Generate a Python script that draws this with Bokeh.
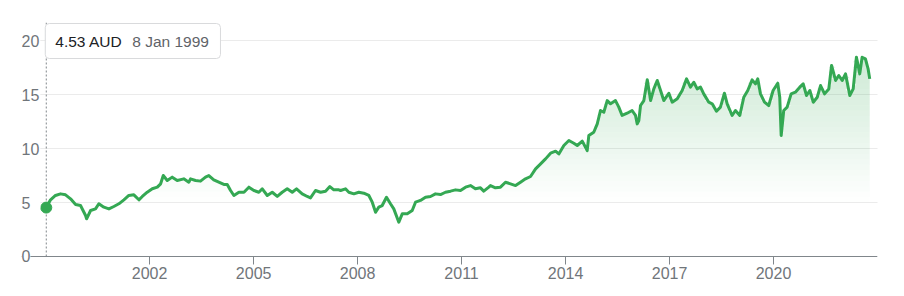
import numpy as np
import pandas as pd
from bokeh.plotting import figure
from bokeh.models import Range1d, FixedTicker, Label, Grid
from bokeh.embed import file_html
from bokeh.resources import INLINE

# ---------------- data ----------------
date_strings = [
    "1999-01-08", "1999-02-22", "1999-04-15", "1999-06-07", "1999-07-30", "1999-09-21",
    "1999-11-13", "2000-01-04", "2000-02-26", "2000-03-08", "2000-04-19", "2000-06-10",
    "2000-07-15", "2000-09-06", "2000-10-29", "2000-12-20", "2001-02-11", "2001-04-05",
    "2001-05-27", "2001-07-19", "2001-09-10", "2001-10-16", "2001-12-07", "2002-01-29",
    "2002-03-23", "2002-04-27", "2002-05-25", "2002-07-06", "2002-08-27", "2002-10-19",
    "2002-12-27", "2003-02-18", "2003-03-08", "2003-04-30", "2003-06-21", "2003-08-13",
    "2003-09-17", "2003-11-08", "2003-12-31", "2004-02-22", "2004-03-29", "2004-05-03",
    "2004-06-07", "2004-07-30", "2004-09-21", "2004-11-12", "2005-01-04", "2005-02-25",
    "2005-04-02", "2005-05-25", "2005-07-16", "2005-09-07", "2005-10-29", "2005-12-21",
    "2006-02-12", "2006-03-29", "2006-05-28", "2006-07-20", "2006-08-23", "2006-10-15",
    "2006-12-07", "2007-01-29", "2007-03-15", "2007-04-26", "2007-06-18", "2007-07-06",
    "2007-08-27", "2007-10-01", "2007-11-23", "2008-01-14", "2008-03-07", "2008-04-29",
    "2008-06-04", "2008-07-09", "2008-08-12", "2008-09-17", "2008-11-01", "2008-12-13",
    "2009-01-17", "2009-03-11", "2009-04-16", "2009-06-08", "2009-07-30", "2009-09-03",
    "2009-10-25", "2009-12-17", "2010-02-08", "2010-04-01", "2010-05-24", "2010-07-15",
    "2010-09-07", "2010-10-29", "2010-12-21", "2011-02-12", "2011-04-05", "2011-05-27",
    "2011-07-19", "2011-08-23", "2011-10-15", "2011-11-02", "2011-12-24", "2012-02-15",
    "2012-04-08", "2012-05-31", "2012-07-23", "2012-09-13", "2012-11-05", "2012-12-28",
    "2013-02-19", "2013-04-13", "2013-06-04", "2013-07-27", "2013-09-18", "2013-10-22",
    "2013-12-14", "2014-02-05", "2014-03-29", "2014-05-04", "2014-06-26", "2014-08-17",
    "2014-09-03", "2014-10-25", "2014-12-01", "2015-01-04", "2015-02-08", "2015-03-16",
    "2015-04-20", "2015-06-11", "2015-07-16", "2015-08-20", "2015-10-12", "2015-12-03",
    "2016-01-08", "2016-01-26", "2016-02-12", "2016-03-01", "2016-04-05", "2016-05-11",
    "2016-06-15", "2016-07-19", "2016-08-24", "2016-09-28", "2016-11-01", "2016-12-24",
    "2017-01-29", "2017-03-23", "2017-05-14", "2017-06-29", "2017-08-09", "2017-09-13",
    "2017-10-19", "2017-11-23", "2017-12-27", "2018-02-18", "2018-03-26", "2018-05-10",
    "2018-06-21", "2018-08-02", "2018-08-31", "2018-10-22", "2018-11-26", "2019-01-11",
    "2019-02-22", "2019-04-05", "2019-05-21", "2019-06-25", "2019-07-19", "2019-08-17",
    "2019-09-28", "2019-11-12", "2019-12-28", "2020-02-15", "2020-03-07", "2020-03-22",
    "2020-04-18", "2020-05-24", "2020-07-05", "2020-08-19", "2020-10-04", "2020-11-09",
    "2020-12-14", "2021-01-18", "2021-02-23", "2021-04-06", "2021-05-11", "2021-06-22",
    "2021-08-06", "2021-09-04", "2021-10-16", "2021-11-19", "2021-12-25", "2022-01-29",
    "2022-03-15", "2022-04-20", "2022-05-24", "2022-06-28", "2022-07-23", "2022-08-27",
    "2022-09-24", "2022-10-11",
]
prices = [
    4.53, 5.25, 5.65, 5.80, 5.71, 5.34,
    4.81, 4.72, 3.80, 3.49, 4.26, 4.41,
    4.88, 4.57, 4.41, 4.63, 4.88, 5.25,
    5.65, 5.71, 5.25, 5.56, 5.96, 6.27,
    6.42, 6.73, 7.50, 7.04, 7.35, 7.04,
    7.19, 6.88, 7.19, 7.04, 6.98, 7.35,
    7.50, 7.10, 6.88, 6.67, 6.67, 6.11,
    5.65, 5.95, 5.95, 6.42, 6.11, 5.95,
    6.27, 5.65, 5.95, 5.56, 5.95, 6.27,
    5.95, 6.27, 5.80, 5.56, 5.43, 6.11,
    5.95, 6.05, 6.48, 6.17, 6.17, 6.11,
    6.27, 5.95, 5.80, 5.95, 5.86, 5.65,
    5.03, 4.10, 4.57, 4.72, 5.49, 4.88,
    4.41, 3.18, 3.95, 3.95, 4.26, 5.03,
    5.19, 5.49, 5.56, 5.80, 5.74, 5.95,
    6.05, 6.17, 6.11, 6.42, 6.57, 6.27,
    6.36, 6.05, 6.42, 6.57, 6.36, 6.42,
    6.88, 6.73, 6.57, 6.88, 7.19, 7.41,
    8.12, 8.58, 9.04, 9.57, 9.75, 9.50,
    10.28, 10.74, 10.49, 10.28, 10.68, 9.81,
    11.20, 11.51, 12.28, 13.52, 13.36, 14.44,
    14.14, 14.44, 13.83, 13.06, 13.27, 13.52,
    13.06, 12.28, 12.59, 13.98, 14.44, 16.36,
    14.44, 15.52, 16.30, 15.37, 14.44, 15.12,
    14.29, 14.60, 15.37, 16.45, 15.68, 16.14,
    15.52, 15.68, 15.06, 14.29, 14.14, 13.45,
    13.83, 15.12, 14.14, 13.06, 13.52, 13.06,
    14.75, 15.37, 16.36, 15.99, 16.45, 15.06,
    14.29, 13.98, 15.37, 16.05, 14.75, 11.20,
    13.52, 13.83, 15.06, 15.22, 15.68, 15.99,
    14.91, 15.37, 14.29, 14.75, 15.83, 15.06,
    15.52, 17.69, 16.30, 16.76, 16.30, 16.91,
    14.91, 15.52, 18.45, 16.91, 18.45, 18.30,
    17.38, 16.45,
]
x_tick_years = [2002, 2005, 2008, 2011, 2014, 2017, 2020]
x_tick_labels = ["2002", "2005", "2008", "2011", "2014", "2017", "2020"]
y_ticks = [0, 5, 10, 15, 20]
y_tick_labels = ["0", "5", "10", "15", "20"]
tooltip_price = "4.53 AUD"
tooltip_date = "8 Jan 1999"

# ---------------- style ----------------
GREEN = "#34a853"
FONT = "Liberation Sans"
GRAY_TEXT = "#70757a"
AXIS_GRAY = "#80868b"

dates = pd.to_datetime(date_strings)
vals = np.array(prices, dtype=float)
first_ms = dates[0].value / 1e6

Y_START, Y_END = -0.741, 21.67   # frame extends 8px below the zero line

p = figure(width=904, height=296, x_axis_type="datetime", y_axis_location=None,
           output_backend="svg", toolbar_location=None,
           x_range=Range1d(pd.Timestamp("1998-04-22"), pd.Timestamp("2023-01-01")),
           y_range=Range1d(Y_START, Y_END),
           min_border_left=21, min_border_right=27, min_border_top=22, min_border_bottom=32)
p.outline_line_color = None
p.background_fill_color = "white"
p.border_fill_color = "white"
p.xgrid.visible = False

p.add_layout(Grid(dimension=1, ticker=FixedTicker(ticks=y_ticks[1:]),
                  grid_line_color="#ebebeb", grid_line_width=1))
# baseline (zero line) acting as the x axis line
p.add_layout(Grid(dimension=1, ticker=FixedTicker(ticks=y_ticks[:1]),
                  grid_line_color=AXIS_GRAY, grid_line_width=1))

tick_ms = [pd.Timestamp(f"{y}-01-01").value / 1e6 for y in x_tick_years]
ax = p.xaxis[0]
ax.ticker = FixedTicker(ticks=tick_ms)
ax.major_label_overrides = {t: lab for t, lab in zip(tick_ms, x_tick_labels)}
ax.axis_line_color = None
ax.major_tick_line_color = AXIS_GRAY
ax.major_tick_out = 0
ax.major_tick_in = 8
ax.minor_tick_out = 0
ax.minor_tick_in = 0
ax.major_label_standoff = 2
ax.major_label_text_font = FONT
ax.major_label_text_font_size = "16px"
ax.major_label_text_color = GRAY_TEXT

# vertical gradient fill under the line: non-overlapping horizontal bands,
# each band's opacity grows with its height
step = 0.5
for lev in np.arange(5.0, 19.0, step):
    a = 0.2 * (lev + step / 2 - 5.0) / 11.0
    p.varea(x=dates, y1=lev, y2=np.clip(vals, lev, lev + step),
            fill_color=GREEN, fill_alpha=a)

p.line(dates, vals, line_color=GREEN, line_width=3, line_join="round")

# dotted hover guide from the zero line up to the top of the frame
p.segment(x0=dates[:1], y0=[0], x1=dates[:1], y1=[Y_END],
          line_color="#80868b", line_dash="2 2", line_width=1)

p.scatter(dates[:1], vals[:1], size=11, fill_color=GREEN, line_color=GREEN)

# y tick labels: left-aligned at the frame's left edge, on a white box that
# hides the start of the grid / zero line behind them
for yv, lab in zip(y_ticks, y_tick_labels):
    pad_r = 0 if yv == y_ticks[0] else (10 if len(lab) == 1 else 1)
    p.add_layout(Label(x=0, x_units="screen", y=yv, text=lab,
                       text_align="left", text_baseline="middle",
                       text_font=FONT, text_font_size="16px", text_color=GRAY_TEXT,
                       padding=dict(left=0, right=pad_r, top=0, bottom=0),
                       background_fill_color="white", level="overlay"))

# tooltip (y in screen px above the frame bottom)
p.add_layout(Label(x=first_ms, y=223.5, y_units="screen", x_offset=-1,
                   text=tooltip_price, text_align="left", text_baseline="middle",
                   text_font=FONT, text_font_size="15.5px", text_color="#202124",
                   padding=dict(left=10, right=98, top=9, bottom=9),
                   background_fill_color="white", border_line_color="#d9dadc",
                   border_radius=4, level="overlay"))
p.add_layout(Label(x=first_ms, y=223.5, y_units="screen", x_offset=86,
                   text=tooltip_date, text_align="left", text_baseline="middle",
                   text_font=FONT, text_font_size="15.5px", text_color="#5f6368",
                   level="overlay"))

open("out.html", "w").write(file_html(p, INLINE))
